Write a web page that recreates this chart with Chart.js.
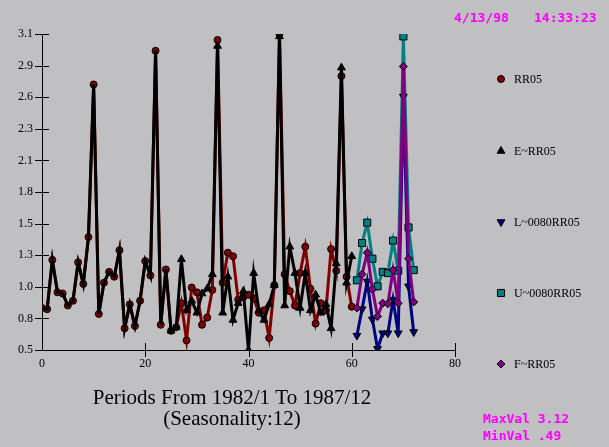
<!DOCTYPE html>
<html><head><meta charset="utf-8">
<script src="https://cdn.jsdelivr.net/npm/chart.js@4/dist/chart.umd.min.js"></script>
<style>html,body{margin:0;padding:0;background:#c0bfc2;}canvas{display:block}</style>
</head><body>
<canvas id="c" width="609" height="447"></canvas>
<script>
// ---- data ----
const seriesNames = ['RR05', 'E~RR05', 'L~0080RR05', 'U~0080RR05', 'F~RR05'];
// actual series, periods 0..60
const RR05 = [0.84, 0.83, 1.24, 0.97, 0.96, 0.86, 0.90, 1.22, 1.04, 1.43,
  2.70, 0.79, 1.05, 1.14, 1.10, 1.32, 0.67, 0.87, 0.69, 0.90,
  1.23, 1.11, 2.98, 0.70, 1.16, 0.65, 0.68, 0.88, 0.57, 1.01,
  0.97, 0.70, 0.76, 0.99, 3.07, 1.05, 1.30, 1.27, 0.91, 0.93,
  0.95, 0.92, 0.80, 0.82, 0.59, 1.03, 3.12, 1.12, 0.98, 0.86,
  1.13, 1.35, 1.00, 0.71, 0.88, 0.82, 1.33, 1.15, 2.77, 1.10, 0.85];
// fitted series, periods 0..60
const E_RR05 = [0.84, 0.83, 1.24, 0.97, 0.96, 0.86, 0.90, 1.22, 1.04, 1.43,
  2.70, 0.79, 1.05, 1.14, 1.10, 1.32, 0.67, 0.87, 0.69, 0.90,
  1.23, 1.11, 2.98, 0.70, 1.16, 0.65, 0.68, 1.245, 0.82, 0.90,
  0.80, 0.96, 1.00, 1.12, 3.02, 0.80, 1.10, 0.74, 0.88, 0.98,
  0.49, 1.13, 0.82, 0.74, 0.87, 1.03, 3.10, 0.86, 1.35, 1.13,
  0.84, 1.13, 0.82, 0.95, 0.80, 0.87, 0.67, 1.21, 2.84, 1.05, 1.27];
const forecastPeriods = [61, 62, 63, 64, 65, 66, 67, 68, 69, 70, 71, 72];
const L_RR05 = [0.61, 0.83, 1.06, 0.745, 0.50, 0.63, 0.63, 0.91, 0.63, 2.60, 1.02, 0.64];
const U_RR05 = [1.07, 1.38, 1.55, 1.25, 1.02, 1.14, 1.13, 1.40, 1.15, 3.10, 1.51, 1.155];
const F_RR05 = [0.84, 1.12, 1.30, 0.995, 0.77, 0.88, 0.875, 1.155, 0.88, 2.85, 1.25, 0.89];
const yTickLabels = ['0.5', '0.8', '1.0', '1.3', '1.5', '1.8', '2.1', '2.3', '2.6', '2.9', '3.1'];
const xTickValues = [0, 20, 40, 60, 80];
const minVal = 0.49, maxVal = 3.12;
const headerDate = '4/13/98', headerTime = '14:33:23';
const titleLines = ['Periods From 1982/1 To 1987/12', '(Seasonality:12)'];
const footerLines = ['MaxVal 3.12', 'MinVal .49'];

// ---- build ----
const actualPts = arr => arr.map((v, i) => ({x: i, y: v}));
const fcPts = arr => arr.map((v, i) => ({x: forecastPeriods[i], y: v}));
const ySpan = (maxVal - minVal) / (yTickLabels.length - 1);
const yTickValues = yTickLabels.map((_, i) => minVal + i * ySpan);

const serif = '"Liberation Serif", "Times New Roman", serif';
const mono = '"DejaVu Sans Mono", monospace';

const base = {showLine: true, borderWidth: 3, tension: 0, pointBorderColor: '#000', pointBorderWidth: 1, fill: false};
const datasets = [
  Object.assign({}, base, {label: seriesNames[0], data: actualPts(RR05), borderColor: '#800000', backgroundColor: '#800000', pointStyle: 'circle', pointRadius: 3.5, order: 5}),
  Object.assign({}, base, {label: seriesNames[1], data: actualPts(E_RR05), borderColor: '#000000', backgroundColor: '#000000', pointStyle: 'triangle',
    pointRadius: c => (c.raw && c.raw.x <= 24 ? 0 : 4.5), order: 4}),
  Object.assign({}, base, {label: seriesNames[2], data: fcPts(L_RR05), borderColor: '#000080', backgroundColor: '#000080', pointStyle: 'triangle', rotation: 180, pointRadius: 4.5, order: 2}),
  Object.assign({}, base, {label: seriesNames[3], data: fcPts(U_RR05), borderColor: '#008080', backgroundColor: '#008080', pointStyle: 'rect', pointRadius: 5, order: 3}),
  Object.assign({}, base, {label: seriesNames[4], data: fcPts(F_RR05), borderColor: '#800080', backgroundColor: '#800080', pointStyle: 'rectRot', pointRadius: 4, order: 1})
];

const crossTicks = {
  id: 'crossTicks',
  beforeDatasetsDraw(chart) {
    const {ctx, scales: {x, y}} = chart;
    ctx.save(); ctx.strokeStyle = '#000'; ctx.lineWidth = 1;
    y.ticks.forEach(t => {
      const py = Math.round(y.getPixelForValue(t.value)) + 0.5;
      ctx.beginPath(); ctx.moveTo(x.left - 7, py); ctx.lineTo(x.left + 7, py); ctx.stroke();
    });
    x.ticks.forEach(t => {
      if (t.value === x.min) return;
      const px = Math.round(x.getPixelForValue(t.value)) + 0.5;
      ctx.beginPath(); ctx.moveTo(px, y.bottom - 7); ctx.lineTo(px, y.bottom + 7); ctx.stroke();
    });
    ctx.restore();
  }
};

const legendY = [79, 151, 222, 293, 364];
const texts = {
  id: 'texts',
  afterDraw(chart) {
    const ctx = chart.ctx;
    ctx.save();
    // legend
    chart.data.datasets.forEach((ds, i) => {
      const r = typeof ds.pointRadius === 'function' ? 4.5 : ds.pointRadius;
      ctx.fillStyle = ds.backgroundColor; ctx.strokeStyle = '#000'; ctx.lineWidth = 1;
      Chart.helpers.drawPoint(ctx, {pointStyle: ds.pointStyle, rotation: ds.rotation || 0, radius: r, borderWidth: 1}, 501, legendY[i]);
      ctx.fillStyle = '#000'; ctx.font = '12px ' + serif; ctx.textBaseline = 'middle'; ctx.textAlign = 'left';
      ctx.fillText(ds.label, 514, legendY[i] + 1);
    });
    // title
    ctx.fillStyle = '#000'; ctx.font = '21px ' + serif; ctx.textAlign = 'center'; ctx.textBaseline = 'alphabetic';
    ctx.fillText(titleLines[0], 232, 404);
    ctx.fillText(titleLines[1], 232, 425);
    // header / footer
    ctx.fillStyle = '#ff00ff'; ctx.font = 'bold 13px ' + mono; ctx.textAlign = 'left';
    ctx.fillText(headerDate, 454, 22);
    ctx.fillText(headerTime, 534, 22);
    ctx.fillText(footerLines[0], 483, 423);
    ctx.fillText(footerLines[1], 483, 440);
    ctx.restore();
  }
};

new Chart(document.getElementById('c'), {
  type: 'scatter',
  data: {datasets},
  options: {
    responsive: false, animation: false, devicePixelRatio: 1,
    layout: {padding: {left: 0, top: 34, right: 154, bottom: 0}},
    plugins: {legend: {display: false}, tooltip: {enabled: false}, title: {display: false}},
    scales: {
      x: {
        type: 'linear', min: 0, max: 80,
        afterBuildTicks: s => { s.ticks = xTickValues.map(v => ({value: v})); },
        afterFit: s => { s.height = 97; },
        grid: {display: true, drawOnChartArea: false, drawTicks: false},
        border: {display: true, color: '#000', width: 1},
        ticks: {color: '#000', font: {family: serif, size: 12}, padding: 7, maxRotation: 0, callback: v => String(v)}
      },
      y: {
        type: 'linear', min: minVal, max: maxVal,
        afterBuildTicks: s => { s.ticks = yTickValues.map(v => ({value: v})); },
        afterFit: s => { s.width = 42; },
        grid: {display: true, drawOnChartArea: false, drawTicks: false},
        border: {display: true, color: '#000', width: 1},
        ticks: {color: '#000', font: {family: serif, size: 12}, padding: 9, autoSkip: false,
          callback: (v, i) => yTickLabels[i]}
      }
    }
  },
  plugins: [crossTicks, texts]
});
</script>
</body></html>
